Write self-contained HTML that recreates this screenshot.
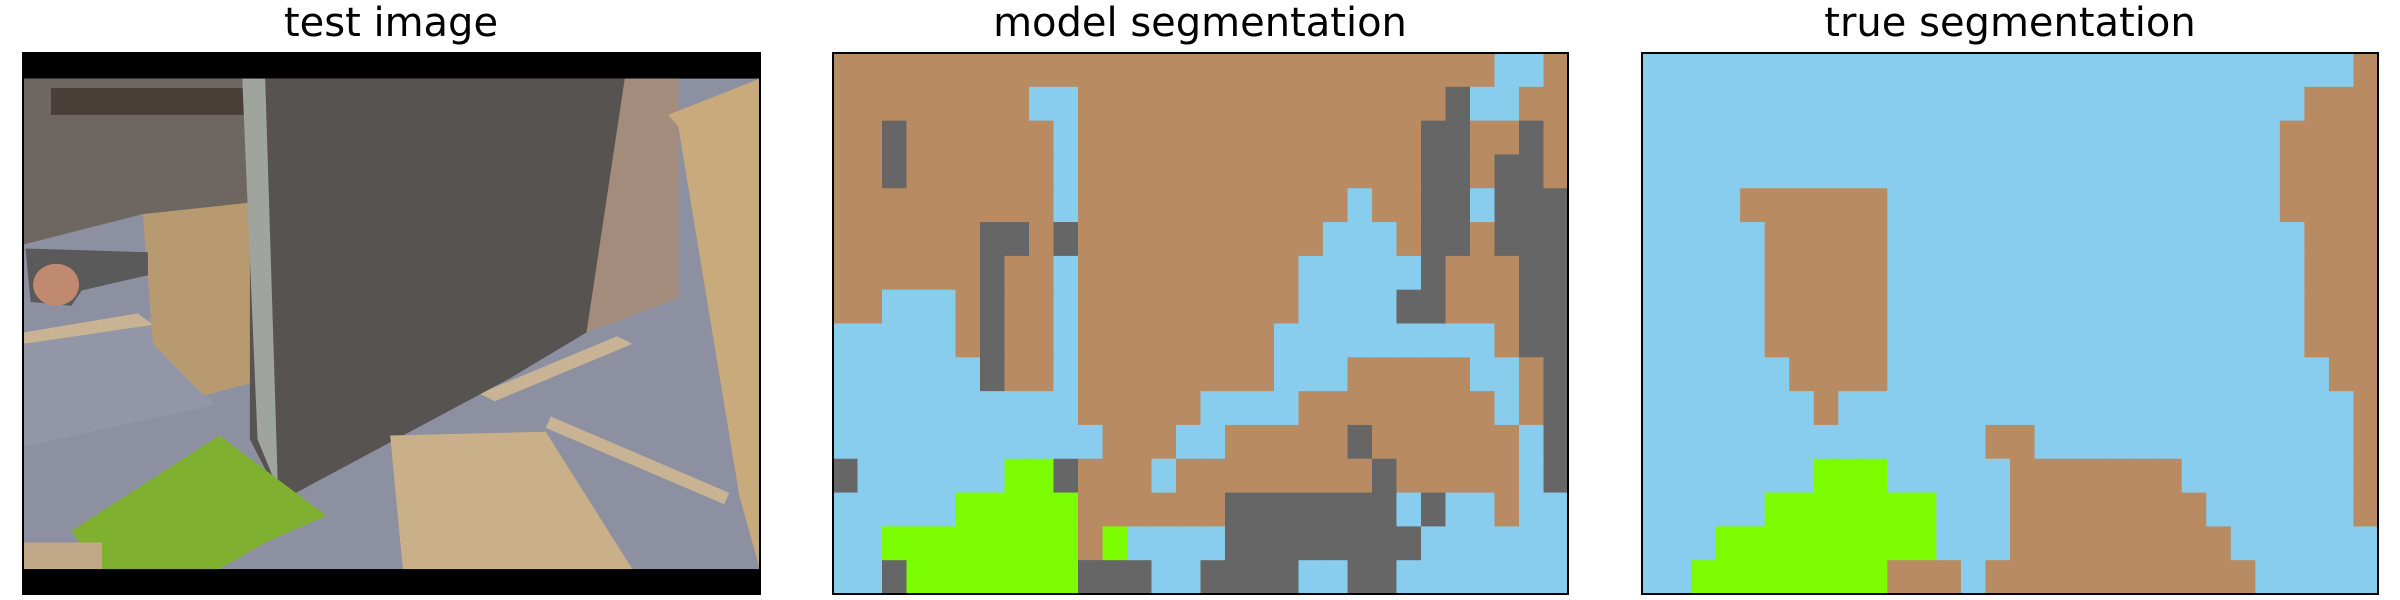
<!DOCTYPE html>
<html><head><meta charset="utf-8"><style>
html,body{margin:0;padding:0;background:#fff;width:2400px;height:600px;overflow:hidden}
svg{display:block}
text{font-family:"DejaVu Sans","Liberation Sans",sans-serif;font-size:40px;fill:#000}
</style></head><body>
<svg id="fig" width="2400" height="600" viewBox="0 0 2400 600">
<text x="391" y="36" text-anchor="middle">test image</text>
<text x="1200" y="36" text-anchor="middle">model segmentation</text>
<text x="2010" y="36" text-anchor="middle">true segmentation</text>
<g>
 <g transform="translate(0,0.3) scale(0.51,0.3818)">
  <rect x="45" y="138" width="1445" height="1417" fill="#000"/>
  <rect x="45" y="205" width="1445" height="1285" fill="#8c90a0"/>
  <polygon points="45,205 490,205 490,540 280,560 45,640" fill="#6e6660"/>
  <polygon points="100,230 480,230 480,300 100,300" fill="#4a3e38"/>
  <polygon points="1225,205 1330,205 1330,780 1150,870 1160,700" fill="#a48c7c"/>
  <polygon points="1310,300 1490,205 1490,1490 1450,1300 1330,330" fill="#c9aa7c"/>
  <polygon points="45,880 300,830 420,1060 45,1170" fill="#9296a6"/>
  <polygon points="45,870 270,820 300,850 45,900" fill="#c8b494"/>
  <polygon points="940,1030 1210,880 1240,900 970,1050" fill="#c8b494"/>
  <polygon points="1080,1090 1430,1290 1420,1320 1070,1120" fill="#c8b494"/>
  <polygon points="280,560 490,530 500,1000 400,1035 300,900" fill="#b89a70"/>
  <polygon points="50,650 290,660 290,720 160,760 140,800 60,790" fill="#5a5a5a"/>
  <ellipse cx="110" cy="745" rx="45" ry="55" fill="#c08a70"/>
  <polygon points="490,205 1225,205 1150,870 1000,990 580,1290 540,1280 490,1150" fill="#575350"/>
  <polygon points="475,205 520,205 545,1280 505,1150" fill="#9fa49f"/>
  <polygon points="765,1140 1070,1130 1240,1490 790,1490" fill="#c9b089"/>
  <polygon points="140,1390 430,1140 640,1350 520,1420 430,1490 190,1490" fill="#80b030"/>
  <polygon points="45,1420 200,1420 200,1490 45,1490" fill="#c0a888"/>
  <rect x="45" y="1490" width="1445" height="65" fill="#000"/>
 </g>
 <rect x="23" y="53" width="737" height="541" fill="none" stroke="#000" stroke-width="2"/>
</g>
<g id="model"></g>
<g id="truth"></g>
</svg>
<script>
// class codes: B=floor(brown) L=background(blue) D=obstacle(gray) G=grass(green)
const classCodes = ["B","L","D","G"];
const classColors = ["#b98b63","#89cdee","#666666","#7cfc00"];
const modelRows = [
"BBBBBBBBBBBBBBBBBBBBBBBBBBBLLB",
"BBBBBBBBLLBBBBBBBBBBBBBBBDLLBB",
"BBDBBBBBBLBBBBBBBBBBBBBBDDBBDB",
"BBDBBBBBBLBBBBBBBBBBBBBBDDBDDB",
"BBBBBBBBBLBBBBBBBBBBBLBBDDLDDD",
"BBBBBBDDBDBBBBBBBBBBLLLBDDBDDD",
"BBBBBBDBBLBBBBBBBBBLLLLLDBBBDD",
"BBLLLBDBBLBBBBBBBBBLLLLDDBBBDD",
"LLLLLBDBBLBBBBBBBBLLLLLLLLLBDD",
"LLLLLLDBBLBBBBBBBBLLLBBBBBLLBD",
"LLLLLLLLLLBBBBBLLLLBBBBBBBBLBD",
"LLLLLLLLLLLBBBLLBBBBBDBBBBBBLD",
"DLLLLLLGGDBBBLBBBBBBBBDBBBBBLD",
"LLLLLGGGGGBBBBBBDDDDDDDLDLLBLL",
"LLGGGGGGGGBGLLLLDDDDDDDDLLLLLL",
"LLDGGGGGGGDDDLLDDDDLLDDLLLLLLL"
];
const trueRows = [
"LLLLLLLLLLLLLLLLLLLLLLLLLLLLLB",
"LLLLLLLLLLLLLLLLLLLLLLLLLLLBBB",
"LLLLLLLLLLLLLLLLLLLLLLLLLLBBBB",
"LLLLLLLLLLLLLLLLLLLLLLLLLLBBBB",
"LLLLBBBBBBLLLLLLLLLLLLLLLLBBBB",
"LLLLLBBBBBLLLLLLLLLLLLLLLLLBBB",
"LLLLLBBBBBLLLLLLLLLLLLLLLLLBBB",
"LLLLLBBBBBLLLLLLLLLLLLLLLLLBBB",
"LLLLLLBBBBLLLLLLLLLLLLLLLLLLBB",
"LLLLLLLBLLLLLLLLLLLLLLLLLLLLLB",
"LLLLLLLLLLLLLLBBLLLLLLLLLLLLLB",
"LLLLLLLGGGLLLLLBBBBBBBLLLLLLLB",
"LLLLLGGGGGGGLLLBBBBBBBBLLLLLLB",
"LLLGGGGGGGGGLLLBBBBBBBBBLLLLLL",
"LLGGGGGGGGBBBLBBBBBBBBBBBLLLLL",
"LLLLLLLLLLLLLLLLLLLLLLLLLLLLLL"
];
// fix: true rows listed above are 0..15 from top; last row correction below
trueRows[11]="LLLLLLLLLLLLLLBBLLLLLLLLLLLLLB";
trueRows[12]="LLLLLLLGGGLLLLLBBBBBBBLLLLLLLB";
trueRows[13]="LLLLLGGGGGGGLLLBBBBBBBBLLLLLLB";
trueRows[14]="LLLGGGGGGGGGLLLBBBBBBBBBLLLLLL";
trueRows[15]="LLGGGGGGGGBBBLBBBBBBBBBBBLLLLL";
trueRows[10]="LLLLLLLBLLLLLLLLLLLLLLLLLLLLLB";
trueRows[9]="LLLLLLBBBBLLLLLLLLLLLLLLLLLLBB";
trueRows[8]="LLLLLBBBBBLLLLLLLLLLLLLLLLLBBB";
trueRows[7]="LLLLLBBBBBLLLLLLLLLLLLLLLLLBBB";

const NS="http://www.w3.org/2000/svg";
function drawMap(gid, rows, x0, y0, w, h){
  const g=document.getElementById(gid);
  const nr=rows.length, nc=rows[0].length;
  const cw=w/nc, ch=h/nr;
  for(let r=0;r<nr;r++){
    for(let c=0;c<nc;c++){
      const k=classCodes.indexOf(rows[r][c]);
      const rect=document.createElementNS(NS,"rect");
      rect.setAttribute("x",(x0+c*cw).toFixed(2));
      rect.setAttribute("y",(y0+r*ch).toFixed(2));
      rect.setAttribute("width",(cw+0.6).toFixed(2));
      rect.setAttribute("height",(ch+0.6).toFixed(2));
      rect.setAttribute("fill",classColors[k]);
      
      
      g.appendChild(rect);
    }
  }
  const f=document.createElementNS(NS,"rect");
  f.setAttribute("x",x0);f.setAttribute("y",y0);
  f.setAttribute("width",w);f.setAttribute("height",h);
  f.setAttribute("fill","none");f.setAttribute("stroke","#000");f.setAttribute("stroke-width","2");
  
  
  g.appendChild(f);
}
drawMap("model", modelRows, 833, 53, 735, 541);
drawMap("truth", trueRows, 1642, 53, 736, 541);
</script>
</body></html>
